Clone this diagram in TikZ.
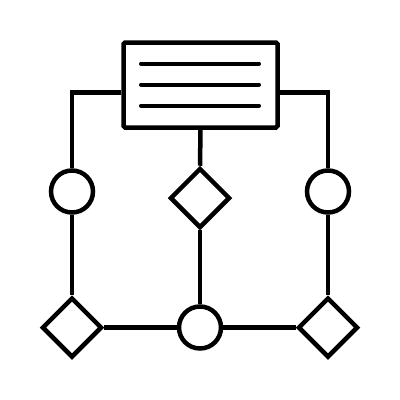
\documentclass[tikz,border=0pt]{standalone}
\usetikzlibrary{shapes.geometric}
\begin{document}
\begin{tikzpicture}[x=1pt,y=-1pt,line width=4.5pt,
  box/.style={draw,rectangle,rounded corners=1.5pt,minimum width=154pt,minimum height=85pt,inner sep=0pt},
  circ/.style={draw,circle,minimum size=42pt,inner sep=0pt,fill=white},
  dia/.style={draw,diamond,minimum width=60pt,minimum height=60pt,inner sep=0pt,fill=white},
  bar/.style={line width=4pt,line cap=round}]
\useasboundingbox[fill=white] (0,0) rectangle (400,400);
\node[box] (rect) at (200.5,85) {};
\draw[bar] (141,63.5) -- (259,63.5);
\draw[bar] (141,84.5) -- (259,84.5);
\draw[bar] (141,105.5) -- (259,105.5);
\coordinate (tl) at (72,92.5);
\coordinate (tr) at (328,92.5);
\node[circ] (lc) at (72,191.5) {};
\node[circ] (rc) at (328,191.5) {};
\node[dia] (cd) at (200,198) {};
\node[circ] (bc) at (200,327.5) {};
\node[dia] (ld) at (72,327.5) {};
\node[dia] (rd) at (328,327.5) {};
\draw (rect.west |- tl) -- (tl) -- (lc.north);
\draw (rect.east |- tr) -- (tr) -- (rc.north);
\draw (lc.south) -- (ld.north);
\draw (rc.south) -- (rd.north);
\draw (rect.south) -- (cd.north);
\draw (cd.south) -- (bc.north);
\draw (ld.east) -- (bc.west);
\draw (bc.east) -- (rd.west);
\end{tikzpicture}
\end{document}
